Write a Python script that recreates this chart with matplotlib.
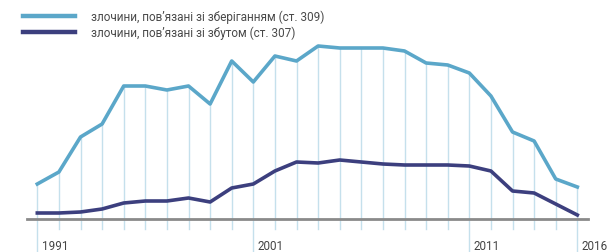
import matplotlib
matplotlib.use("Agg")
import matplotlib.pyplot as plt

years = list(range(1991, 2017))
storage = [35, 47, 82, 95, 133, 133, 129, 133, 115, 158, 137, 163, 158,
           173, 171, 171, 171, 168, 156, 154, 146, 123, 87, 78, 40, 32]
sales = [6, 6, 7, 10, 16, 18, 18, 21, 17, 31, 35, 48, 57,
         56, 59, 57, 55, 54, 54, 54, 53, 48, 28, 26, 15, 4]
tick_years = [1991, 2001, 2011, 2016]
labels = ["злочини, пов’язані зі зберіганням (ст. 309)",
          "злочини, пов’язані зі збутом (ст. 307)"]

light = "#5ba7c9"
dark = "#3c3f7e"
grid = "#c5e0ec"

plt.rcParams["font.family"] = ["Roboto", "DejaVu Sans"]

fig = plt.figure(figsize=(6.08, 2.53), dpi=100)
ax = fig.add_axes([0, 0, 1, 1])

# year guides: from the light line down below the baseline
for yr, top in zip(years, storage):
    bottom = -33 if yr in tick_years else -10
    ax.plot([yr, yr], [bottom, top], color=grid, lw=1.0, zorder=1)

ax.plot([1990.5, 2016.5], [0, 0], color="#8a8a8a", lw=2, zorder=2)

ax.plot(years, storage, color=light, lw=2.6, solid_joinstyle="round",
        label=labels[0], zorder=3)
ax.plot(years, sales, color=dark, lw=2.6, solid_joinstyle="round",
        label=labels[1], zorder=3)

for yr in tick_years:
    ax.text(yr + 0.2, -27, str(yr), ha="left", va="center",
            fontsize=8.4, color="#444444")

leg = ax.legend(loc="upper left", bbox_to_anchor=(0.022, 0.995), frameon=False,
                fontsize=8.5, handlelength=4.4, handletextpad=1.4,
                labelspacing=0.2, borderpad=0.3)
for h in leg.get_lines():
    h.set_linewidth(3.2)
for t in leg.get_texts():
    t.set_color("#4a4a4a")

ax.set_xlim(1989.273, 2017.42)
ax.set_ylim(-33, 220)
ax.axis("off")

fig.savefig("out.png", dpi=100, facecolor="white")
